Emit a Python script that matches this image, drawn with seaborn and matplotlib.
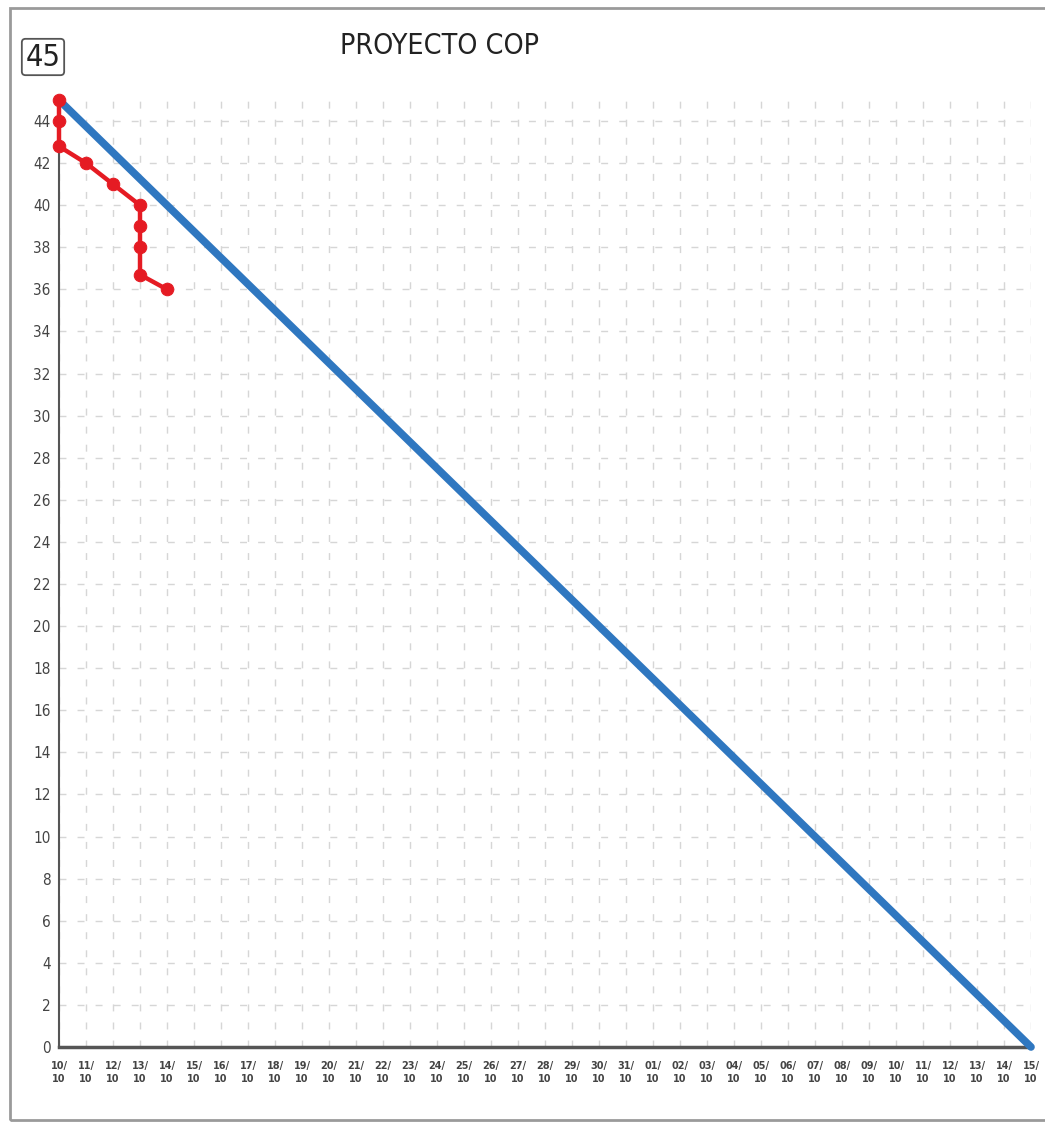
import matplotlib
matplotlib.use("Agg")
import matplotlib.pyplot as plt
import seaborn as sns
import pandas as pd
from matplotlib import font_manager
from matplotlib.patches import Rectangle

# ---- data ----
day_labels = ["10", "11", "12", "13", "14", "15", "16", "17", "18", "19", "20",
              "21", "22", "23", "24", "25", "26", "27", "28", "29", "30", "31",
              "01", "02", "03", "04", "05", "06", "07", "08", "09", "10", "11",
              "12", "13", "14", "15"]
month_labels = ["10"] * len(day_labels)

ideal_x = [0, 36]
ideal_y = [45, 0]

actual_x = [0, 0, 0, 1, 2, 3, 3, 3, 3, 4]
actual_y = [45, 44, 42.8, 42, 41, 40, 39, 38, 36.7, 36]

y_ticks = list(range(0, 45, 2))
title = "PROYECTO COP"
max_label = "45"

# ---- style ----
sns.set_style("white")
condensed = [f for f in font_manager.fontManager.ttflist
             if f.stretch in ("condensed", "semi-condensed", "extra-condensed", 400, 300)
             or "Condensed" in f.name or "Narrow" in f.name]
cond_name = condensed[0].name if condensed else None
plt.rcParams['font.family'] = ["DejaVu Sans"]
cond_family = [cond_name, "DejaVu Sans"] if cond_name else ["DejaVu Sans"]

W, H = 1045, 1124
fig = plt.figure(figsize=(W / 100, H / 100), dpi=100)
ax = fig.add_axes([59 / W, 1 - 1047 / H, (1031 - 59) / W, (1047 - 100) / H])

df_ideal = pd.DataFrame({"x": ideal_x, "y": ideal_y})
df_act = pd.DataFrame({"x": actual_x, "y": actual_y})

sns.lineplot(data=df_ideal, x="x", y="y", ax=ax, color="#2f77c0", linewidth=5.5,
             estimator=None, sort=False, zorder=3)
sns.lineplot(data=df_act, x="x", y="y", ax=ax, color="#e51b23", linewidth=3.2,
             estimator=None, sort=False, marker="o", markersize=9,
             markeredgecolor="#e51b23", zorder=4)
for ln in ax.lines:
    ln.set_clip_on(False)

ax.set_xlim(0, 36)
ax.set_ylim(0, 45)
ax.set_xticks(range(len(day_labels)))
ax.set_xticklabels([f"{d}/\n{m}" for d, m in zip(day_labels, month_labels)],
                   fontsize=7, fontweight="bold", color="#444444", linespacing=1.35)
ax.set_yticks(y_ticks)
ax.set_yticklabels([str(v) for v in y_ticks], fontsize=11, color="#444444",
                   family=cond_family, stretch="condensed")
ax.set_xlabel("")
ax.set_ylabel("")

ax.grid(True, axis="x", color="#d6d6d6", linestyle=(0, (5, 8)), linewidth=1)
ax.grid(True, axis="y", color="#d6d6d6", linestyle=(0, (5, 8)), linewidth=1)
ax.set_axisbelow(True)

for s in ["top", "right"]:
    ax.spines[s].set_visible(False)
ax.spines["bottom"].set_color("#555555")
ax.spines["bottom"].set_linewidth(2.5)
ax.spines["left"].set_color("#555555")
ax.spines["left"].set_linewidth(1.5)
ax.tick_params(axis="x", direction="inout", length=12, width=1.3, color="#555555", pad=4)
ax.tick_params(axis="y", direction="inout", length=8, width=1.3, color="#555555", pad=2)

fig.text(439 / W, 1 - 46 / H, title, ha="center", va="center", fontsize=20.5, color="#222222",
         family=cond_family, stretch="condensed")
fig.text(43 / W, 1 - 57 / H, max_label, ha="center", va="center", fontsize=22, color="#222222",
         family=cond_family, stretch="condensed",
         bbox=dict(boxstyle="round,pad=0.12", facecolor="white", edgecolor="#555555", linewidth=1.3))

# outer frame
fig.patches.append(Rectangle((10 / W, 4 / H), 1.2, 1 - 12 / H, transform=fig.transFigure,
                             fill=False, edgecolor="#9a9a9a", linewidth=2))

fig.savefig("out.png", dpi=100)
